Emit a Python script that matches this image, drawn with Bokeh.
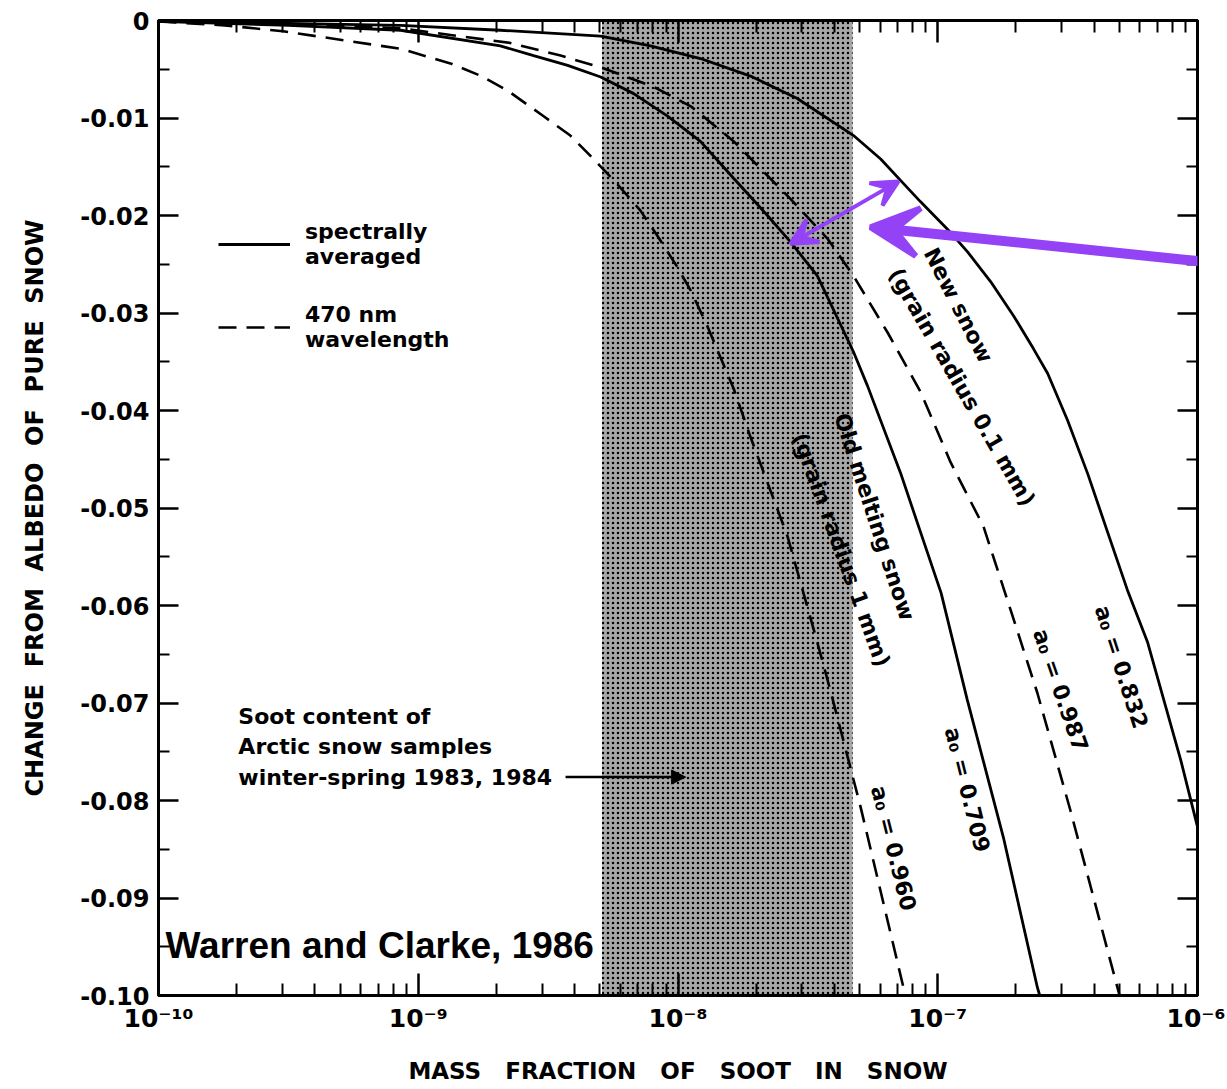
from bokeh.plotting import figure
from bokeh.models import (Range1d, FixedTicker, CustomJSTickFormatter, LogAxis, LinearAxis,
                          BoxAnnotation, Arrow, VeeHead, NormalHead, Legend, LegendItem,
                          ColumnDataSource)
from bokeh.embed import file_html
from bokeh.resources import INLINE
from bokeh.core.properties import value

# ---------------- data ----------------
# New snow (grain radius 0.1 mm), spectrally averaged, w0 = 0.832
new_avg_x = [1e-10, 3.16e-10, 8.55e-10, 2.07e-9, 5.04e-9, 7.83e-9, 1.22e-8, 1.90e-8,
             2.88e-8, 4.74e-8, 6.03e-8, 7.19e-8, 8.59e-8, 1.09e-7, 1.30e-7, 1.60e-7,
             1.96e-7, 2.34e-7, 2.65e-7, 3.16e-7, 3.78e-7, 4.51e-7, 5.37e-7, 6.43e-7,
             8.61e-7, 1e-6]
new_avg_y = [-0.0001, -0.0003, -0.0005, -0.0010, -0.0016, -0.0026, -0.0039, -0.0057,
             -0.0080, -0.0118, -0.0142, -0.0164, -0.0186, -0.0214, -0.0237, -0.0268,
             -0.0303, -0.0337, -0.0362, -0.0410, -0.0465, -0.0525, -0.0584, -0.0638,
             -0.0758, -0.0827]
# New snow, 470 nm, w0 = 0.987
new_470_x = [1e-10, 3.16e-10, 8.55e-10, 2.26e-9, 3.53e-9, 5.16e-9, 8.05e-9, 1.12e-8,
             1.64e-8, 2.71e-8, 3.77e-8, 4.74e-8, 6.41e-8, 8.59e-8, 1.12e-7, 1.50e-7,
             1.91e-7, 2.42e-7, 3.24e-7, 4.92e-7, 5.01e-7]
new_470_y = [-0.0001, -0.0004, -0.0008, -0.0023, -0.0036, -0.0049, -0.0068, -0.0088,
             -0.0124, -0.0183, -0.0224, -0.0262, -0.0320, -0.0381, -0.0453, -0.0519,
             -0.0605, -0.0690, -0.0810, -0.0992, -0.1000]
# Old melting snow (grain radius 1 mm), spectrally averaged, w0 = 0.709
old_avg_x = [1e-10, 3.16e-10, 8.55e-10, 2.07e-9, 2.78e-9, 3.76e-9, 5.04e-9, 6.75e-9,
             9.12e-9, 1.22e-8, 1.64e-8, 2.21e-8, 2.71e-8, 3.44e-8, 4.74e-8, 5.37e-8,
             7.19e-8, 8.59e-8, 1.03e-7, 1.30e-7, 1.79e-7, 2.42e-7, 2.47e-7]
old_avg_y = [-0.0001, -0.0005, -0.0010, -0.0026, -0.0036, -0.0046, -0.0058, -0.0075,
             -0.0098, -0.0124, -0.0162, -0.0200, -0.0227, -0.0262, -0.0340, -0.0375,
             -0.0464, -0.0525, -0.0587, -0.0697, -0.0838, -0.0992, -0.1000]
# Old melting snow, 470 nm, w0 = 0.960
old_470_x = [1e-10, 1.8e-10, 3.02e-10, 8.55e-10, 1.33e-9, 1.75e-9, 2.21e-9, 3.03e-9,
             3.85e-9, 4.73e-9, 5.85e-9, 7.17e-9, 8.34e-9, 9.95e-9, 1.12e-8, 1.30e-8,
             1.64e-8, 1.90e-8, 2.64e-8, 3.44e-8, 3.86e-8, 5.05e-8, 7.38e-8, 7.52e-8]
old_470_y = [-0.0001, -0.0005, -0.0011, -0.0029, -0.0044, -0.0057, -0.0072, -0.0098,
             -0.0118, -0.0142, -0.0168, -0.0195, -0.0221, -0.0253, -0.0277, -0.0314,
             -0.0378, -0.0427, -0.0529, -0.0638, -0.0687, -0.0807, -0.0992, -0.1000]

# Soot content range of Arctic snow samples
soot_low = 5.1e-9
soot_high = 4.7e-8

# axis ticks
x_major = [1e-10, 1e-9, 1e-8, 1e-7, 1e-6]
x_minor = [k * d for d in [1e-10, 1e-9, 1e-8, 1e-7] for k in range(2, 10)]
y_major = [0.0, -0.01, -0.02, -0.03, -0.04, -0.05, -0.06, -0.07, -0.08, -0.09, -0.10]
y_minor = [-0.005, -0.015, -0.025, -0.035, -0.045, -0.055, -0.065, -0.075, -0.085, -0.095]

# curve labels: text, x, y, angle (deg)
lab_text = ["New snow", "(grain radius 0.1 mm)", "Old melting snow", "(grain radius 1 mm)",
            "a\u2080 = 0.832", "a\u2080 = 0.987", "a\u2080 = 0.709", "a\u2080 = 0.960"]
lab_x = [1.20e-7, 1.24e-7, 5.71e-8, 4.25e-8, 5.09e-7, 2.97e-7, 1.30e-7, 6.76e-8]
lab_y = [-0.0292, -0.0376, -0.0509, -0.0543, -0.0663, -0.0687, -0.0789, -0.0849]
lab_angle = [-63, -60, -72, -70, -72, -71, -76, -76]

soot_text = ["Soot content of", "Arctic snow samples", "winter-spring 1983, 1984"]
soot_text_x = [2.03e-10, 2.03e-10, 2.03e-10]
soot_text_y = [-0.0714, -0.0745, -0.0776]

FONT = "DejaVu Sans"
SP3 = "\u00a0\u00a0\u00a0"
SP2 = "\u00a0\u00a0"

p = figure(width=1225, height=1088, x_axis_type="log",
           x_range=Range1d(1e-10, 1e-6), y_range=Range1d(-0.1, 0.0),
           output_backend="svg", toolbar_location=None,
           min_border_left=158, min_border_right=28, min_border_top=20, min_border_bottom=93)
p.xgrid.visible = False
p.ygrid.visible = False
p.outline_line_color = "black"
p.outline_line_width = 3
p.background_fill_color = "white"
p.border_fill_color = "white"

sup_js = """
const sup = {'-':'\u207b','0':'\u2070','1':'\u00b9','2':'\u00b2','3':'\u00b3','4':'\u2074',
             '5':'\u2075','6':'\u2076','7':'\u2077','8':'\u2078','9':'\u2079'};
const e = Math.round(Math.log10(tick));
return '10' + String(e).split('').map(c => sup[c]).join('');
"""
blank_js = "return '';"

def style_axis(ax, major_in, minor_in):
    ax.axis_line_color = "black"
    ax.axis_line_width = 3
    ax.major_tick_in = major_in
    ax.major_tick_out = 0
    ax.minor_tick_in = minor_in
    ax.minor_tick_out = 0
    ax.major_tick_line_width = 2.5
    ax.minor_tick_line_width = 2
    ax.major_tick_line_color = "black"
    ax.minor_tick_line_color = "black"
    ax.major_label_text_color = "black"
    ax.axis_label_text_color = "black"

xax = p.xaxis[0]
xax.ticker = FixedTicker(ticks=x_major, minor_ticks=x_minor)
xax.formatter = CustomJSTickFormatter(code=sup_js)
style_axis(xax, 22, 12)
xax.major_label_text_font = FONT
xax.major_label_text_font_size = "25px"
xax.major_label_text_font_style = "bold"
xax.major_label_standoff = 8
xax.axis_label = SP3.join(["MASS", "FRACTION", "OF", "SOOT", "IN", "SNOW"])
xax.axis_label_text_font = FONT
xax.axis_label_text_font_size = "23px"
xax.axis_label_text_font_style = "bold"
xax.axis_label_standoff = 22

yax = p.yaxis[0]
yax.ticker = FixedTicker(ticks=y_major, minor_ticks=y_minor)
yax.formatter = CustomJSTickFormatter(code="return tick == 0 ? '0' : tick.toFixed(2);")
style_axis(yax, 20, 11)
yax.major_label_text_font = FONT
yax.major_label_text_font_size = "24px"
yax.major_label_text_font_style = "bold"
yax.major_label_standoff = 9
yax.axis_label = SP2.join(["CHANGE", "FROM", "ALBEDO", "OF", "PURE", "SNOW"])
yax.axis_label_text_font = FONT
yax.axis_label_text_font_size = "24px"
yax.axis_label_text_font_style = "bold"
yax.axis_label_standoff = 28

top = LogAxis(ticker=FixedTicker(ticks=x_major, minor_ticks=x_minor),
              formatter=CustomJSTickFormatter(code=blank_js))
style_axis(top, 22, 12)
top.major_label_standoff = 0
top.major_label_text_font_size = "1px"
p.add_layout(top, "above")

right = LinearAxis(ticker=FixedTicker(ticks=y_major, minor_ticks=y_minor),
                   formatter=CustomJSTickFormatter(code=blank_js))
style_axis(right, 20, 11)
right.major_label_standoff = 0
right.major_label_text_font_size = "1px"
p.add_layout(right, "right")

# shaded soot range (halftone)
shade = BoxAnnotation(left=soot_low, right=soot_high, fill_color="#a8a8a8", fill_alpha=1.0,
                      hatch_pattern=".", hatch_color="black", hatch_scale=5, hatch_weight=3,
                      line_color=None, level="underlay")
p.add_layout(shade)

# curves
rA = p.line(new_avg_x, new_avg_y, line_color="black", line_width=2.8)
rB = p.line(new_470_x, new_470_y, line_color="black", line_width=2.6, line_dash="18 10")
rC = p.line(old_avg_x, old_avg_y, line_color="black", line_width=2.8)
rD = p.line(old_470_x, old_470_y, line_color="black", line_width=2.6, line_dash="18 10")

legend = Legend(items=[LegendItem(label="spectrally\naveraged", renderers=[rA]),
                       LegendItem(label="470 nm\nwavelength", renderers=[rB])],
                location=(60, 643), border_line_color=None, background_fill_alpha=0,
                label_text_font=FONT, label_text_font_size="22px", label_text_font_style="bold",
                label_text_color="black",
                glyph_width=72, glyph_height=20, label_standoff=15, spacing=33,
                padding=0, margin=0)
p.add_layout(legend)

# curve labels
src = ColumnDataSource(dict(x=lab_x, y=lab_y, text=lab_text, angle=lab_angle))
p.text(x="x", y="y", text="text", angle="angle", angle_units="deg", source=src,
       text_align="center", text_baseline="middle", text_font=value(FONT),
       text_font_size="22px", text_font_style="bold", text_color="black")

src2 = ColumnDataSource(dict(x=soot_text_x, y=soot_text_y, text=soot_text))
p.text(x="x", y="y", text="text", source=src2, text_align="left", text_baseline="middle",
       text_font=value(FONT), text_font_size="22px", text_font_style="bold", text_color="black")

p.text(x=[1.064e-10], y=[-0.0949], text=["Warren and Clarke, 1986"], text_align="left",
       text_baseline="middle", text_font=value("Liberation Sans"), text_font_size="37px",
       text_font_style="bold", text_color="black")

# arrows
p.add_layout(Arrow(x_start=3.69e-9, y_start=-0.0776, x_end=1.07e-8, y_end=-0.0776,
                   line_color="black", line_width=2.5,
                   end=NormalHead(size=14, fill_color="black", line_color="black")))

purple = "#9442f5"
p.add_layout(Arrow(x_start=2.71e-8, y_start=-0.0229, x_end=7.06e-8, y_end=-0.0165,
                   line_color=purple, line_width=4,
                   start=VeeHead(size=26, fill_color=purple, line_color=purple, line_width=4),
                   end=VeeHead(size=26, fill_color=purple, line_color=purple, line_width=4)))
p.add_layout(Arrow(x_start=1.31e-6, y_start=-0.0250, x_end=5.51e-8, y_end=-0.0212,
                   line_color=purple, line_width=10,
                   end=VeeHead(size=48, fill_color=purple, line_color=purple, line_width=6)))

open("out.html", "w").write(file_html(p, INLINE))
